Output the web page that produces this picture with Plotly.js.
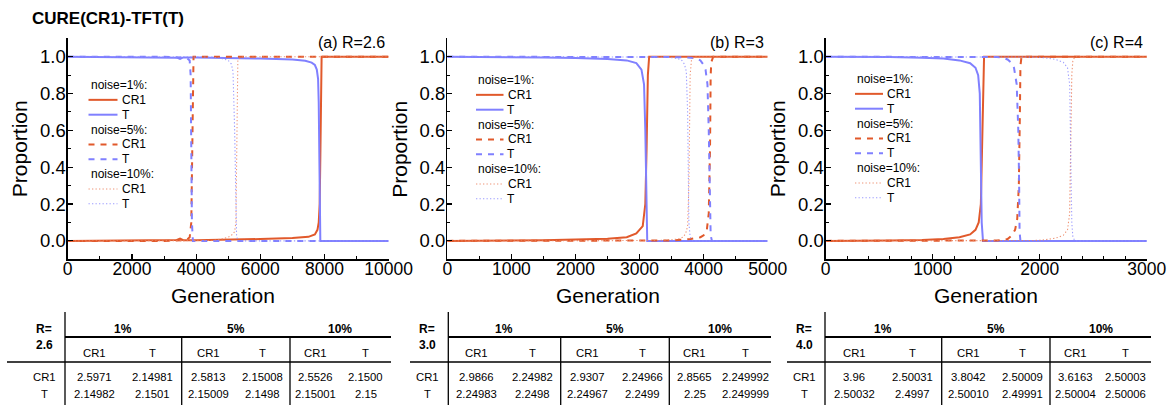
<!DOCTYPE html>
<html><head><meta charset="utf-8">
<script src="https://cdn.plot.ly/plotly-3.0.1.min.js"></script>
<style>html,body{margin:0;padding:0;background:#fff;}#chart{width:1174px;height:412px;}</style>
</head><body><div id="chart"></div>
<script>
// ---------------- DATA ----------------
const chartTitle = 'CURE(CR1)-TFT(T)';
const panelLabels = ['(a) R=2.6', '(b) R=3', '(c) R=4'];
const noiseLabels = ['noise=1%:', 'noise=5%:', 'noise=10%:'];
const strategyNames = ['CR1', 'T'];

// Panel (a) R=2.6
const a1_cr1_x = [0, 1000, 2000, 3000, 3400, 3500, 3600, 4000, 5000, 6000, 7000, 7500, 7700, 7780, 7820, 7850, 7870, 7885, 7895, 7910, 8000, 10000];
const a1_cr1_y = [0, 0.001, 0.002, 0.003, 0.005, 0.012, 0.004, 0.004, 0.006, 0.01, 0.016, 0.022, 0.035, 0.06, 0.1, 0.2, 0.45, 0.8, 0.97, 1.0, 1.0, 1.0];
const a1_t_x = [0, 1000, 2000, 3000, 3400, 3500, 3600, 4000, 5000, 6000, 7000, 7400, 7600, 7700, 7760, 7800, 7820, 7835, 7845, 7855, 7870, 10000];
const a1_t_y = [1.0, 0.999, 0.998, 0.997, 0.995, 0.988, 0.996, 0.996, 0.994, 0.99, 0.985, 0.978, 0.968, 0.955, 0.93, 0.88, 0.75, 0.5, 0.2, 0.05, 0.0, 0.0];
const a5_cr1_x = [0, 3000, 3700, 3800, 3850, 3880, 3900, 3920, 4000, 10000];
const a5_cr1_y = [0, 0, 0.005, 0.02, 0.1, 0.5, 0.9, 1.0, 1.0, 1.0];
const a5_t_x = [0, 3000, 3700, 3800, 3830, 3850, 3870, 3900, 4000, 10000];
const a5_t_y = [1, 1, 0.995, 0.98, 0.9, 0.5, 0.1, 0.0, 0, 0];
const a10_cr1_x = [0, 4000, 4500, 4800, 5000, 5100, 5200, 5240, 5260, 5280, 5300, 5400, 10000];
const a10_cr1_y = [0, 0, 0.002, 0.01, 0.02, 0.03, 0.05, 0.1, 0.5, 0.9, 0.98, 1.0, 1.0];
const a10_t_x = [0, 4000, 4500, 4800, 5000, 5100, 5150, 5200, 5220, 5240, 5260, 5300, 10000];
const a10_t_y = [1, 1, 0.998, 0.99, 0.98, 0.96, 0.92, 0.6, 0.3, 0.1, 0.03, 0, 0];

// Panel (b) R=3
const b1_cr1_x = [0, 500, 1000, 1500, 2000, 2500, 2800, 2950, 3050, 3090, 3110, 3130, 3150, 5000];
const b1_cr1_y = [0, 0, 0.002, 0.004, 0.007, 0.012, 0.02, 0.04, 0.08, 0.2, 0.5, 0.9, 1.0, 1.0];
const b1_t_x = [0, 500, 1000, 1500, 2000, 2500, 2800, 2950, 3030, 3070, 3090, 3105, 3120, 5000];
const b1_t_y = [1, 1, 0.998, 0.996, 0.993, 0.988, 0.98, 0.965, 0.93, 0.85, 0.6, 0.2, 0, 0];
const b5_cr1_x = [0, 3000, 3500, 3800, 3900, 3950, 4000, 4050, 4080, 4100, 4110, 4120, 4150, 5000];
const b5_cr1_y = [0, 0, 0.002, 0.01, 0.015, 0.02, 0.03, 0.06, 0.15, 0.5, 0.9, 0.97, 1.0, 1.0];
const b5_t_x = [0, 3000, 3500, 3800, 3900, 3950, 3990, 4030, 4060, 4080, 4095, 4110, 4130, 5000];
const b5_t_y = [1, 1, 0.998, 0.995, 0.99, 0.98, 0.96, 0.93, 0.85, 0.6, 0.3, 0.03, 0, 0];
const b10_cr1_x = [0, 3000, 3300, 3500, 3600, 3680, 3720, 3750, 3770, 3780, 3790, 3810, 3850, 5000];
const b10_cr1_y = [0, 0, 0.002, 0.006, 0.01, 0.02, 0.04, 0.08, 0.3, 0.6, 0.9, 0.98, 1.0, 1.0];
const b10_t_x = [0, 3000, 3300, 3500, 3600, 3660, 3700, 3730, 3750, 3760, 3770, 3790, 3830, 5000];
const b10_t_y = [1, 1, 0.998, 0.995, 0.99, 0.98, 0.96, 0.92, 0.7, 0.4, 0.1, 0.02, 0, 0];

// Panel (c) R=4
const c1_cr1_x = [0, 300, 600, 900, 1100, 1250, 1350, 1400, 1430, 1450, 1460, 1470, 1480, 3000];
const c1_cr1_y = [0, 0, 0.002, 0.005, 0.01, 0.02, 0.035, 0.06, 0.1, 0.2, 0.5, 0.9, 1.0, 1.0];
const c1_t_x = [0, 300, 600, 900, 1100, 1250, 1350, 1400, 1425, 1440, 1450, 1458, 1470, 3000];
const c1_t_y = [1, 1, 0.998, 0.995, 0.99, 0.98, 0.965, 0.94, 0.9, 0.8, 0.5, 0.1, 0, 0];
const c5_cr1_x = [0, 1500, 1600, 1650, 1700, 1740, 1770, 1790, 1805, 1815, 1820, 1830, 3000];
const c5_cr1_y = [0, 0, 0.002, 0.005, 0.01, 0.03, 0.06, 0.12, 0.3, 0.7, 0.95, 1.0, 1.0];
const c5_t_x = [0, 1500, 1600, 1650, 1700, 1730, 1760, 1785, 1800, 1808, 1812, 1820, 3000];
const c5_t_y = [1, 1, 0.998, 0.995, 0.985, 0.97, 0.94, 0.85, 0.6, 0.3, 0.05, 0, 0];
const c10_cr1_x = [0, 1800, 1950, 2050, 2150, 2220, 2260, 2280, 2290, 2300, 2310, 2330, 3000];
const c10_cr1_y = [0, 0, 0.002, 0.006, 0.015, 0.03, 0.06, 0.15, 0.5, 0.9, 0.98, 1.0, 1.0];
const c10_t_x = [0, 1800, 1950, 2050, 2150, 2220, 2260, 2280, 2290, 2300, 2310, 2330, 3000];
const c10_t_y = [1, 1, 0.998, 0.994, 0.985, 0.97, 0.94, 0.85, 0.5, 0.1, 0.02, 0, 0];

// Tables
const tableRValues = ['2.6', '3.0', '4.0'];
const tableNoiseHeaders = ['1%', '5%', '10%'];
const tableSubHeaders = ['CR1', 'T'];
const tableRowLabels = ['CR1', 'T'];
const tableA_CR1 = ['2.5971', '2.14981', '2.5813', '2.15008', '2.5526', '2.1500'];
const tableA_T   = ['2.14982', '2.1501', '2.15009', '2.1498', '2.15001', '2.15'];
const tableB_CR1 = ['2.9866', '2.24982', '2.9307', '2.24966', '2.8565', '2.249992'];
const tableB_T   = ['2.24983', '2.2498', '2.24967', '2.2499', '2.25', '2.249999'];
const tableC_CR1 = ['3.96', '2.50031', '3.8042', '2.50009', '3.6163', '2.50003'];
const tableC_T   = ['2.50032', '2.4997', '2.50010', '2.49991', '2.50004', '2.50006'];

// ---------------- STYLE / LAYOUT ----------------
const W = 1174, H = 412;
const PX = v => v / W;
const PY = v => 1 - v / H;
const FONT = 'Liberation Sans, Arial, Helvetica, sans-serif';
const ORANGE = '#E1592B', BLUE = '#8080FF';
const ORANGE_L = 'rgba(236,130,95,0.85)', BLUE_L = 'rgba(140,140,255,0.85)';
const lineStyles = [
  {dash: 'solid', width: 2, colors: [ORANGE, BLUE]},
  {dash: '6px,6px', width: 2, colors: [ORANGE, BLUE]},
  {dash: '1.3px,2.2px', width: 1.1, colors: [ORANGE_L, BLUE_L]}
];

const panels = [
  {xa: 'x', ya: 'y', range: [0, 10000], dtick: 2000, minor: 1000, dom: [67.7, 388.7], titleShift: -5,
   series: [[a1_cr1_x, a1_cr1_y, a1_t_x, a1_t_y], [a5_cr1_x, a5_cr1_y, a5_t_x, a5_t_y], [a10_cr1_x, a10_cr1_y, a10_t_x, a10_t_y]],
   legX: 88.5, legY: 85, legLine: 29},
  {xa: 'x2', ya: 'y2', range: [0, 5000], dtick: 1000, minor: 500, dom: [447.3, 767.7], titleShift: 0,
   series: [[b1_cr1_x, b1_cr1_y, b1_t_x, b1_t_y], [b5_cr1_x, b5_cr1_y, b5_t_x, b5_t_y], [b10_cr1_x, b10_cr1_y, b10_t_x, b10_t_y]],
   legX: 476, legY: 80, legLine: 27.5},
  {xa: 'x3', ya: 'y3', range: [0, 3000], dtick: 1000, minor: 200, dom: [825.7, 1146.7], titleShift: 0,
   series: [[c1_cr1_x, c1_cr1_y, c1_t_x, c1_t_y], [c5_cr1_x, c5_cr1_y, c5_t_x, c5_t_y], [c10_cr1_x, c10_cr1_y, c10_t_x, c10_t_y]],
   legX: 855, legY: 79, legLine: 28}
];
const yTopPx = 38.3, yBotPx = 259.3;

const traces = [];
const annotations = [];
const shapes = [];
const layout = {
  width: W, height: H, margin: {l: 0, r: 0, t: 0, b: 0},
  paper_bgcolor: '#fff', plot_bgcolor: 'rgba(0,0,0,0)',
  showlegend: false, font: {family: FONT, color: '#000'},
  annotations: annotations, shapes: shapes
};

function ann(x, y, text, size, opts) {
  annotations.push(Object.assign({
    xref: 'paper', yref: 'paper', x: PX(x), y: PY(y), text: text, showarrow: false,
    xanchor: 'center', yanchor: 'middle', font: {family: FONT, size: size, color: '#000'}
  }, opts || {}));
}
function hline(x0, x1, y, w) {
  shapes.push({type: 'line', xref: 'paper', yref: 'paper', x0: PX(x0), x1: PX(x1), y0: PY(y), y1: PY(y), line: {color: '#000', width: w}});
}
function vline(x, y0, y1, w) {
  shapes.push({type: 'line', xref: 'paper', yref: 'paper', x0: PX(x), x1: PX(x), y0: PY(y0), y1: PY(y1), line: {color: '#000', width: w}});
}

ann(30, 19, chartTitle, 17, {xanchor: 'left', font: {family: FONT, size: 17, color: '#000', weight: 'bold'}});

panels.forEach((p, pi) => {
  const xkey = 'xaxis' + (pi ? pi + 1 : '');
  const ykey = 'yaxis' + (pi ? pi + 1 : '');
  layout[xkey] = {
    domain: [PX(p.dom[0]), PX(p.dom[1])], range: p.range, anchor: p.ya,
    showline: true, linecolor: '#000', linewidth: 1.3, mirror: false,
    showgrid: false, zeroline: false, ticks: 'inside', ticklen: 5, tickwidth: 1.2, tickcolor: '#000',
    dtick: p.dtick, tick0: 0, tickformat: 'd', ticklabelstandoff: -7,
    tickfont: {family: FONT, size: 17.5, color: '#000'},
    minor: {ticks: 'inside', ticklen: 3, tickwidth: 1, tickcolor: '#000', dtick: p.minor, tick0: 0, showgrid: false},
    fixedrange: true
  };
  layout[ykey] = {
    domain: [PY(yBotPx), PY(yTopPx)], range: [-0.1, 1.1], anchor: p.xa,
    showline: true, linecolor: '#000', linewidth: 1.3, mirror: false,
    showgrid: false, zeroline: false, ticks: 'inside', ticklen: 5, tickwidth: 1.2, tickcolor: '#000',
    dtick: 0.2, tick0: 0, tickformat: '.1f', ticklabelstandoff: -3,
    tickfont: {family: FONT, size: 18.5, color: '#000'},
    minor: {ticks: 'inside', ticklen: 3, tickwidth: 1, tickcolor: '#000', dtick: 0.1, tick0: 0, showgrid: false},
    fixedrange: true
  };
  p.series.forEach((s, ni) => {
    const st = lineStyles[ni];
    [0, 1].forEach(si => {
      traces.push({
        type: 'scatter', mode: 'lines', x: s[si * 2], y: s[si * 2 + 1], xaxis: p.xa, yaxis: p.ya,
        name: noiseLabels[ni] + ' ' + strategyNames[si],
        line: {color: st.colors[si], width: st.width, dash: st.dash, shape: 'linear'},
        hoverinfo: 'skip'
      });
    });
  });
  annotations.push({xref: 'paper', yref: 'paper', x: PX(p.dom[1] - 2), y: PY(42.7), text: panelLabels[pi], showarrow: false,
    xanchor: 'right', yanchor: 'middle', font: {family: FONT, size: 16, color: '#000'}});
  ann((p.dom[0] + p.dom[1]) / 2 + p.titleShift, 295, 'Generation', 21);
  ann(p.dom[0] - 47.5, 149, 'Proportion', 21, {textangle: -90});
  const step = 14.85;
  let row = 0;
  noiseLabels.forEach((nl, ni) => {
    ann(p.legX, p.legY + step * row, nl, 12, {xanchor: 'left'});
    row++;
    const st = lineStyles[ni];
    strategyNames.forEach((sn, si) => {
      const yy = p.legY + step * row;
      shapes.push({type: 'line', xref: 'paper', yref: 'paper', x0: PX(p.legX), x1: PX(p.legX + p.legLine), y0: PY(yy), y1: PY(yy),
        line: {color: st.colors[si], width: st.width, dash: st.dash}});
      ann(p.legX + p.legLine + 2, yy, sn, 12, {xanchor: 'left'});
      row++;
    });
  });
});

const tables = [
  {R: tableRValues[0], rows: [tableA_CR1, tableA_T], vx: 65, seps: [181.7, 290], x1: 391, left: 7},
  {R: tableRValues[1], rows: [tableB_CR1, tableB_T], vx: 448.3, seps: [560.7, 669.3], x1: 771, left: 410},
  {R: tableRValues[2], rows: [tableC_CR1, tableC_T], vx: 825, seps: [941.7, 1050], x1: 1151, left: 787}
];
tables.forEach(t => {
  const bounds = [t.vx, t.seps[0], t.seps[1], t.x1];
  vline(t.vx, 312, 405, 1.3);
  vline(t.seps[0], 337, 405, 1.3);
  vline(t.seps[1], 337, 405, 1.3);
  hline(t.vx, t.x1, 337, 2);
  hline(t.left, t.x1, 362, 1.5);
  const FS = 11.3;
  const bold = {family: FONT, size: 12, color: '#000', weight: 'bold'};
  ann(t.vx - 21, 329, 'R=', 12, {font: bold});
  ann(t.vx - 21, 345, t.R, 12, {font: bold});
  for (let g = 0; g < 3; g++) {
    const s = bounds[g], e = bounds[g + 1];
    ann((s + e) / 2, 328.5, tableNoiseHeaders[g], 12, {font: bold});
    [0, 1].forEach(k => {
      const cx = s + (e - s) * (k === 0 ? 0.25 : 0.75);
      ann(cx, 352.5, tableSubHeaders[k], FS);
      ann(cx, 377, t.rows[0][g * 2 + k], FS);
      ann(cx, 393.5, t.rows[1][g * 2 + k], FS);
    });
  }
  ann(t.vx - 21, 377, tableRowLabels[0], FS);
  ann(t.vx - 21, 393.5, tableRowLabels[1], FS);
});

Plotly.newPlot('chart', traces, layout, {staticPlot: true, displayModeBar: false});
</script></body></html>
